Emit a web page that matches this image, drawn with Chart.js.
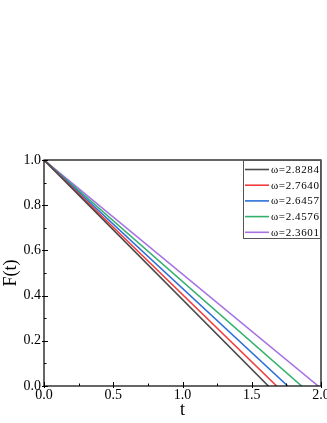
<!DOCTYPE html>
<html>
<head>
<meta charset="utf-8">
<script src="https://cdn.jsdelivr.net/npm/chart.js@4/dist/chart.umd.min.js"></script>
<style>
  html, body { margin: 0; padding: 0; background: #fff; overflow: hidden; }
  #chart { display: block; }
</style>
</head>
<body>
<canvas id="chart" width="327" height="423"></canvas>
<script>
// series: omega labels, end time where F(t) reaches 0
const omegaLabels = ['ω=2.8284', 'ω=2.7640', 'ω=2.6457', 'ω=2.4576', 'ω=2.3601'];
const tStart = [0, 0, 0, 0, 0];
const tEnd = [1.62, 1.68, 1.76, 1.86, 1.98];
const fStart = [1.0, 1.0, 1.0, 1.0, 1.0];
const fEnd = [0.0, 0.0, 0.0, 0.0, 0.0];
const xTicks = [0.0, 0.5, 1.0, 1.5, 2.0];
const yTicks = [0.0, 0.2, 0.4, 0.6, 0.8, 1.0];

const colors = ['#4a4a4a', '#f23c3c', '#2b6fd9', '#33b06e', '#a671e3'];
const serif = '"Liberation Serif", "Times New Roman", serif';

const datasets = omegaLabels.map((label, i) => ({
    label: label,
    data: [{ x: tStart[i], y: fStart[i] }, { x: tEnd[i], y: fEnd[i] }],
    borderColor: colors[i],
    backgroundColor: colors[i],
    borderWidth: 1.6,
    pointRadius: 0,
    tension: 0,
    fill: false
}));

// frame, tick marks (inside) and the boxed legend
const framePlugin = {
    id: 'frame',
    afterDatasetsDraw(chart) {
        const ctx = chart.ctx;
        const area = chart.chartArea;
        const xs = chart.scales.x;
        const ys = chart.scales.y;
        ctx.save();
        ctx.strokeStyle = '#000';
        ctx.lineWidth = 1.2;
        ctx.strokeRect(area.left, area.top, area.right - area.left, area.bottom - area.top);

        ctx.lineWidth = 1;
        ctx.beginPath();
        for (let v = 0; v <= 2.0001; v += 0.25) {
            const px = Math.round(xs.getPixelForValue(v)) + 0.5;
            const major = Math.abs(v * 2 - Math.round(v * 2)) < 1e-6;
            ctx.moveTo(px, area.bottom + (major ? 2 : 0));
            ctx.lineTo(px, area.bottom - (major ? 4 : 2.5));
        }
        for (let v = 0; v <= 1.0001; v += 0.1) {
            const py = Math.round(ys.getPixelForValue(v)) + 0.5;
            const major = Math.round(v * 10) % 2 === 0;
            ctx.moveTo(area.left - (major ? 2 : 0), py);
            ctx.lineTo(area.left + (major ? 4 : 2.5), py);
        }
        ctx.stroke();

        // legend box
        const boxL = 243, boxT = area.top, boxR = area.right, boxB = 239;
        ctx.fillStyle = '#fff';
        ctx.fillRect(boxL, boxT, boxR - boxL, boxB - boxT);
        ctx.strokeStyle = '#555';
        ctx.lineWidth = 1;
        ctx.strokeRect(boxL + 0.5, boxT + 0.5, boxR - boxL - 1, boxB - boxT - 1);
        ctx.font = '11px ' + serif;
        ctx.textBaseline = 'middle';
        ctx.textAlign = 'left';
        if ('letterSpacing' in ctx) ctx.letterSpacing = '0.6px';
        chart.data.datasets.forEach((ds, i) => {
            const y = 169.5 + i * 15.7;
            ctx.strokeStyle = ds.borderColor;
            ctx.lineWidth = 1.6;
            ctx.beginPath();
            ctx.moveTo(245, y);
            ctx.lineTo(269, y);
            ctx.stroke();
            ctx.fillStyle = '#000';
            ctx.fillText(ds.label, 271, y + 0.5);
        });
        ctx.restore();
    }
};

const ctx = document.getElementById('chart').getContext('2d');
const chart = new Chart(ctx, {
    type: 'line',
    data: { datasets: datasets },
    plugins: [framePlugin],
    options: {
        responsive: false,
        animation: false,
        layout: { padding: { top: 160, right: 6, left: 0, bottom: 0 } },
        plugins: {
            legend: { display: false },
            tooltip: { enabled: false }
        },
        scales: {
            x: {
                type: 'linear',
                min: 0,
                max: 2,
                afterBuildTicks: s => { s.ticks = xTicks.map(v => ({ value: v })); },
                ticks: {
                    callback: v => v.toFixed(1),
                    color: '#000',
                    font: { family: serif, size: 14 },
                    padding: 1,
                    maxRotation: 0,
                    autoSkip: false
                },
                grid: { display: false, drawTicks: false },
                border: { display: false },
                title: {
                    display: true,
                    text: 't',
                    color: '#000',
                    font: { family: serif, size: 18 },
                    padding: { top: 0, bottom: 2 }
                },
                afterFit: s => { s.height = 37; s.paddingLeft = 0; s.paddingRight = 0; }
            },
            y: {
                type: 'linear',
                min: 0,
                max: 1,
                afterBuildTicks: s => { s.ticks = yTicks.map(v => ({ value: v })); },
                ticks: {
                    callback: v => v.toFixed(1),
                    color: '#000',
                    font: { family: serif, size: 14 },
                    padding: 3
                },
                grid: { display: false, drawTicks: false },
                border: { display: false },
                title: {
                    display: true,
                    text: 'F(t)',
                    color: '#000',
                    font: { family: serif, size: 18 },
                    padding: { top: 0, bottom: 0 }
                },
                afterFit: s => { s.width = 44; }
            }
        }
    }
});
</script>
</body>
</html>
